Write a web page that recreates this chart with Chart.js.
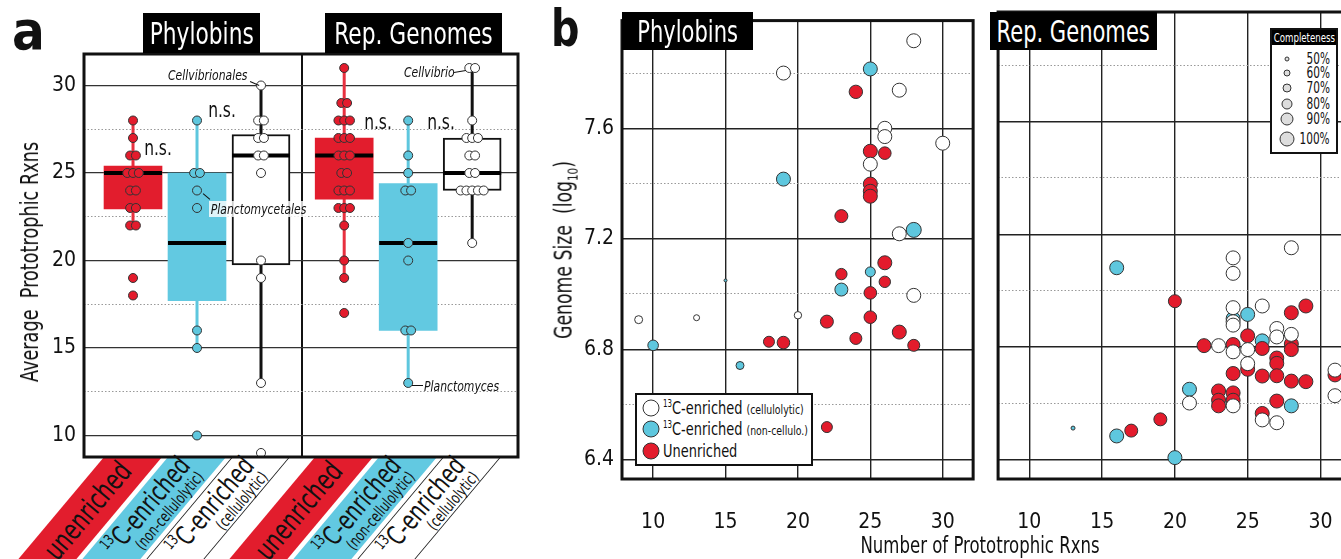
<!DOCTYPE html>
<html>
<head>
<meta charset="utf-8">
<script src="https://cdn.jsdelivr.net/npm/chart.js@4.4.1/dist/chart.umd.min.js"></script>
<style>
  html, body { margin: 0; padding: 0; background: #fff; }
  body {
    width: 1341px; height: 559px; position: relative; overflow: hidden;
    font-family: "DejaVu Sans Condensed", "Liberation Sans Narrow", "Roboto", sans-serif;
    color: #111;
  }
  canvas { position: absolute; top: 0; }
  .abs { position: absolute; white-space: nowrap; }
  .sx { display: inline-block; white-space: nowrap; flex: none; }
  .hdr { position: absolute; background: #000; color: #fff; font-size: 31px; white-space: nowrap;
         display: flex; justify-content: center; align-items: center; }
  .hdr .sx { transform: scaleX(0.78); }
  .band { position: absolute; width: 58px; height: 120px; transform-origin: 0 0; transform: skewX(-40deg); box-sizing: border-box; }
  .btxt { position: absolute; transform: translate(-50%, -50%) rotate(-50deg) scaleX(0.8); text-align: right; white-space: nowrap; line-height: 0.95; }
  .btxt .big { font-size: 27px; }
  .btxt .small { font-size: 16px; }
  sup { font-size: 0.55em; vertical-align: 0.75em; line-height: 0; }
  .ann { position: absolute; font-style: italic; font-size: 14px; white-space: nowrap; transform: translateY(-50%) scaleX(0.86); transform-origin: 0 50%; }
  .ns { position: absolute; font-size: 21px; transform: translate(-50%, -50%) scaleX(0.82); white-space: nowrap; }
  .leg { position: absolute; background: #fff; border: 2px solid #111; box-sizing: border-box; }
  .dot { position: absolute; border-radius: 50%; border: 1px solid #333; box-sizing: border-box; transform: translate(-50%, -50%); }
  .seg { position: absolute; height: 1.3px; background: #111; transform-origin: 0 50%; }
  .legtxt { position: absolute; left: 26px; font-size: 18px; line-height: 22px; white-space: nowrap; transform: scaleX(0.8); transform-origin: 0 50%; }
  .legtxt span { font-size: 13px; }
</style>
</head>
<body>
<div id="bands"></div>
<canvas id="chartA" width="540" height="559" style="left:0px"></canvas>
<canvas id="chartB1" width="446" height="559" style="left:540px"></canvas>
<canvas id="chartB2" width="380" height="559" style="left:986px"></canvas>

<div class="abs" style="left:12px;top:4px;font-size:54px;font-weight:bold;line-height:54px;">a</div>
<div class="abs" style="left:551px;top:2px;font-size:52px;font-weight:bold;line-height:52px;transform:scaleX(0.85);transform-origin:0 0;">b</div>

<div class="hdr" style="left:143px;top:13px;width:117px;height:40px;"><span class="sx">Phylobins</span></div>
<div class="hdr" style="left:325px;top:13px;width:177px;height:40px;"><span class="sx">Rep. Genomes</span></div>
<div class="hdr" style="left:622px;top:12px;width:131px;height:38px;font-size:30px;"><span class="sx">Phylobins</span></div>
<div class="hdr" style="left:990px;top:12px;width:167px;height:38px;font-size:30px;"><span class="sx">Rep. Genomes</span></div>

<div class="abs" style="left:30px;top:262px;font-size:24px;transform:translate(-50%,-50%) rotate(-90deg) scaleX(0.82);">Average&nbsp; Prototrophic Rxns</div>

<div class="ns" style="left:158px;top:148px;">n.s.</div>
<div class="ns" style="left:222px;top:110px;">n.s.</div>
<div class="ns" style="left:378px;top:122px;">n.s.</div>
<div class="ns" style="left:441px;top:122px;">n.s.</div>

<div class="ann" style="left:168px;top:75px;">Cellvibrionales</div>
<div class="ann" style="left:209px;top:209px;background:rgba(255,255,255,0.8);padding:0 2px;">Planctomycetales</div>
<div class="ann" style="left:404px;top:72px;">Cellvibrio</div>
<div class="ann" style="left:424px;top:386px;">Planctomyces</div>
<div id="segs"></div>

<div class="abs" style="left:565px;top:250px;font-size:24px;transform:translate(-50%,-50%) rotate(-90deg) scaleX(0.8);">Genome Size&nbsp; (log<sub style="font-size:0.6em;">10</sub>)</div>
<div class="abs" style="left:980px;top:545px;font-size:23px;transform:translate(-50%,-50%) scaleX(0.8);">Number of Prototrophic Rxns</div>

<div class="leg" style="left:635px;top:393px;width:178px;height:73px;">
  <div class="dot" style="left:14px;top:13px;width:17px;height:17px;background:#fff;"></div>
  <div class="legtxt" style="top:2px;"><sup>13</sup>C-enriched <span>(cellulolytic)</span></div>
  <div class="dot" style="left:14px;top:34px;width:17px;height:17px;background:#5ec7de;"></div>
  <div class="legtxt" style="top:23px;"><sup>13</sup>C-enriched <span>(non-cellulo.)</span></div>
  <div class="dot" style="left:14px;top:56px;width:17px;height:17px;background:#e31b2c;"></div>
  <div class="legtxt" style="top:45px;">Unenriched</div>
</div>

<div class="leg" id="compLeg" style="left:1270px;top:28px;width:68px;height:126px;">
  <div class="hdr" style="left:0;top:0;width:64px;height:15px;font-size:12px;"><span class="sx" style="transform:scaleX(0.8);">Completeness</span></div>
</div>

<script>
// ---------- panel a : box plots ----------
const groups = ["Phylobins", "Rep. Genomes"];
const categories = ["unenriched", "13C-enriched (non-cellulolytic)", "13C-enriched (cellulolytic)"];

const phyloUnenriched = [28, 27, 26, 26, 25, 25, 25, 24, 24, 23, 23, 22, 22, 19, 18];
const phyloNonCell = [28, 25, 25, 24, 23, 16, 15, 10];
const phyloCell = [30, 28, 28, 27, 27, 26, 26, 25, 20, 19, 13, 9];
const repUnenriched = [31, 29, 29, 28, 28, 28, 27, 27, 27, 26, 26, 26, 25, 25, 24, 24, 24, 23, 23, 23, 22, 20, 19, 17];
const repNonCell = [28, 26, 25, 24, 24, 21, 20, 16, 16, 13];
const repCell = [31, 31, 28, 27, 27, 27, 26, 26, 25, 25, 24, 24, 24, 24, 24, 21];

// box statistics, in the same order as the point lists
const boxQ1 = [22.95, 17.7, 19.75, 23.5, 16.0, 24.0];
const boxQ3 = [25.4, 25.0, 27.2, 27.0, 24.4, 27.0];
const boxMedian = [25, 21, 26, 26, 21, 25];
const whiskerLow = [22, 15, 13, 19, 13, 21];
const whiskerHigh = [28, 28, 30, 31, 28, 31];

const yTicksA = [10, 15, 20, 25, 30];
const yMinorA = [12.5, 17.5, 22.5, 27.5];

// ---------- panel b : scatter [rxns, log10 genome size, completeness %] ----------
const xTicksB = [10, 15, 20, 25, 30];
const yTicksB = [6.4, 6.8, 7.2, 7.6];
const yMinorB = [6.6, 7.0, 7.4, 7.8];

const phyloCellPts = [
  [28, 7.917, 95], [19, 7.80, 95], [27, 7.738, 95], [26, 7.60, 95], [26, 7.57, 95], [30, 7.546, 95],
  [25, 7.47, 95], [27, 7.218, 95], [28, 6.995, 95], [9, 6.907, 65], [13, 6.914, 55], [20, 6.923, 62]
];
const phyloNonCellPts = [
  [25, 7.815, 95], [19, 7.416, 95], [28, 7.232, 100], [25, 7.08, 75], [23, 7.016, 90],
  [15, 7.049, 40], [10, 6.814, 78], [16, 6.741, 65]
];
const phyloUnenrichedPts = [
  [24, 7.732, 92], [25, 7.517, 95], [26, 7.51, 88], [25, 7.398, 95], [25, 7.372, 95], [25, 7.354, 95],
  [23, 7.282, 90], [26, 7.113, 95], [23, 7.072, 82], [26, 7.044, 82], [25, 7.004, 88], [22, 6.90, 90],
  [25, 6.916, 88], [27, 6.862, 95], [24, 6.839, 85], [28, 6.814, 85], [18, 6.827, 80], [19, 6.824, 88],
  [22, 6.518, 80]
];
const repCellPts = [
  [28, 7.152, 95], [24, 7.116, 95], [24, 7.061, 95], [24, 6.939, 95], [26, 6.945, 95], [24, 6.889, 95],
  [24, 6.877, 95], [27, 6.865, 95], [28, 6.844, 95], [27, 6.835, 95], [23, 6.804, 95], [24, 6.782, 95],
  [25, 6.79, 95], [25, 6.74, 95], [31, 6.717, 95], [31, 6.626, 95], [21, 6.60, 95], [24, 6.59, 95],
  [26, 6.54, 95], [27, 6.53, 95]
];
const repNonCellPts = [
  [16, 7.081, 95], [25, 6.915, 95], [24, 6.90, 95], [26, 6.821, 95], [21, 6.649, 95], [28, 6.59, 95],
  [16, 6.483, 95], [13, 6.511, 45], [20, 6.406, 95]
];
const repUnenrichedPts = [
  [20, 6.962, 90], [28, 6.921, 95], [29, 6.945, 95], [25, 6.839, 95], [22, 6.804, 95], [24, 6.808, 95],
  [26, 6.794, 95], [28, 6.81, 95], [28, 6.79, 95], [27, 6.76, 95], [27, 6.741, 95], [24, 6.705, 95],
  [25, 6.72, 95], [26, 6.696, 95], [27, 6.697, 95], [28, 6.678, 95], [29, 6.676, 95], [31, 6.70, 95],
  [23, 6.643, 95], [23, 6.61, 95], [23, 6.59, 95], [24, 6.636, 95], [24, 6.61, 95], [27, 6.607, 95],
  [26, 6.563, 95], [19, 6.542, 90], [17, 6.502, 90]
];
const completenessLevels = [50, 60, 70, 80, 90, 100];

const RED = "#e31b2c", CYAN = "#5ec7de", WHITE = "#ffffff";
const FONT = getComputedStyle(document.body).fontFamily;
Chart.defaults.font.family = FONT;
Chart.defaults.color = "#111";

const frame = {
  id: "frame",
  afterDraw(chart) {
    const a = chart.chartArea, ctx = chart.ctx;
    ctx.save();
    ctx.strokeStyle = "#111";
    ctx.lineWidth = 3;
    ctx.strokeRect(a.left, a.top, a.right - a.left, a.bottom - a.top);
    ctx.restore();
  }
};

function setTicks(list) {
  return s => { s.ticks = list.map(v => ({ value: v })); };
}

/* =====================================================
   PANEL A
===================================================== */
const pointLists = [phyloUnenriched, phyloNonCell, phyloCell, repUnenriched, repNonCell, repCell];
const fills = [RED, CYAN, WHITE, RED, CYAN, WHITE];
const boxFills = ["#e21d2d", "#62c9e1", WHITE, "#e21d2d", "#62c9e1", WHITE];
const whiskerColors = ["#e8303f", "#5ec7de", "#111", "#e8303f", "#5ec7de", "#111"];
const xPos = pointLists.map((_, i) => 1 + i + (i >= 3 ? 0.3 : 0));

function jitter(values, pos) {
  const counts = {}, seen = {};
  values.forEach(v => counts[v] = (counts[v] || 0) + 1);
  return values.map(v => {
    const j = seen[v] || 0;
    seen[v] = j + 1;
    return { x: pos + (j - (counts[v] - 1) / 2) * 0.09, y: v };
  });
}

const datasetsA = [];
pointLists.forEach((vals, i) => {
  datasetsA.push({
    type: "line",
    data: [{ x: xPos[i], y: whiskerLow[i] }, { x: xPos[i], y: whiskerHigh[i] }],
    borderColor: whiskerColors[i],
    borderWidth: 3,
    pointRadius: 0,
    order: 10
  });
});
datasetsA.push({
  type: "bar",
  data: xPos.map((x, i) => ({ x, y: [boxQ1[i], boxQ3[i]] })),
  backgroundColor: boxFills,
  borderColor: ["#e21d2d", "#62c9e1", "#111", "#e21d2d", "#62c9e1", "#111"],
  borderWidth: [0, 0, 2, 0, 0, 2],
  borderSkipped: false,
  barThickness: 58,
  order: 8
});
datasetsA.push({
  type: "scatter",
  data: xPos.map((x, i) => ({ x, y: boxMedian[i] })),
  pointStyle: "line",
  pointRadius: 29,
  borderColor: "#000",
  borderWidth: 4,
  order: 6
});
pointLists.forEach((vals, i) => {
  datasetsA.push({
    type: "scatter",
    data: jitter(vals, xPos[i]),
    backgroundColor: fills[i],
    borderColor: "#333",
    borderWidth: 1,
    pointRadius: 4.5,
    order: 1
  });
});

const chartA = new Chart(document.getElementById("chartA"), {
  type: "bar",
  data: { datasets: datasetsA },
  options: {
    responsive: false,
    animation: false,
    layout: { autoPadding: false, padding: { top: 54, right: 22, bottom: 102, left: 0 } },
    plugins: { legend: { display: false }, tooltip: { enabled: false } },
    scales: {
      x: {
        type: "linear", min: 0.234, max: 7.016, offset: false,
        afterFit: s => { s.height = 0; },
        afterBuildTicks: setTicks([3.64]),
        ticks: { display: false },
        grid: { color: "#111", lineWidth: 2, drawTicks: false, offset: false },
        border: { display: false }
      },
      y: {
        min: 8.77, max: 31.8,
        afterFit: s => { s.width = 84; },
        afterBuildTicks: setTicks(yTicksA),
        ticks: { padding: 8, font: { size: 21 }, color: "#111" },
        grid: { color: "#333", lineWidth: 1.2, drawTicks: false },
        border: { display: false }
      },
      y2: {
        position: "left", min: 8.77, max: 31.8,
        afterFit: s => { s.width = 0; },
        afterBuildTicks: setTicks(yMinorA),
        ticks: { display: false },
        grid: { color: "#999", lineWidth: 1, drawTicks: false },
        border: { display: false, dash: [1.5, 2] }
      }
    }
  },
  plugins: [frame]
});

// diagonal category bands under panel a
const bands = document.getElementById("bands");
pointLists.forEach((_, i) => {
  const cx = chartA.scales.x.getPixelForValue(xPos[i]);
  const top = chartA.chartArea.bottom;
  const k = i % 3;
  const band = document.createElement("div");
  band.className = "band";
  band.style.left = (cx - 29) + "px";
  band.style.top = top + "px";
  band.style.background = boxFills[i];
  if (k === 2) { band.style.borderLeft = "1.5px solid #111"; band.style.borderRight = "1.5px solid #111"; }
  bands.appendChild(band);

  const d = 54;
  const t = document.createElement("div");
  t.className = "btxt";
  t.style.left = (cx - 0.839 * d) + "px";
  t.style.top = (top + d) + "px";
  if (k === 0) t.innerHTML = '<div class="big" style="font-size:29px">unenriched</div>';
  if (k === 1) t.innerHTML = '<div class="big"><sup>13</sup>C-enriched</div><div class="small">(non-cellulolytic)</div>';
  if (k === 2) t.innerHTML = '<div class="big"><sup>13</sup>C-enriched</div><div class="small">(cellulolytic)</div>';
  bands.appendChild(t);
});

// annotation leader lines
function seg(x1, y1, x2, y2) {
  const s = document.createElement("div");
  s.className = "seg";
  const len = Math.hypot(x2 - x1, y2 - y1);
  s.style.left = x1 + "px";
  s.style.top = y1 + "px";
  s.style.width = len + "px";
  s.style.transform = "rotate(" + Math.atan2(y2 - y1, x2 - x1) + "rad)";
  document.getElementById("segs").appendChild(s);
}
seg(250, 81, 259, 85);
seg(203, 193, 210, 199);
seg(454, 72, 466, 70);
seg(412, 385, 423, 385);

/* =====================================================
   PANEL B
===================================================== */
const radiusFor = c => Math.max(1.5, 2.5 + (c - 50) * 0.1);

function scatterSet(pts, color) {
  return {
    data: pts.map(p => ({ x: p[0], y: p[1], c: p[2] })),
    backgroundColor: color,
    borderColor: "#333",
    borderWidth: 1,
    pointRadius: ctx => radiusFor(ctx.raw.c),
    clip: false
  };
}

function scatterOptions(showY, yWidth, rightPad) {
  return {
    responsive: false,
    animation: false,
    layout: { autoPadding: false, padding: { top: 12, right: rightPad, bottom: 0, left: 0 } },
    plugins: { legend: { display: false }, tooltip: { enabled: false } },
    scales: {
      x: {
        type: "linear", min: 7.85, max: 32.1,
        afterFit: s => { s.height = 80; },
        afterBuildTicks: setTicks(xTicksB),
        ticks: { padding: 31, font: { size: 21 }, color: "#111" },
        grid: { color: "#222", lineWidth: 1.4, drawTicks: false },
        border: { display: false }
      },
      y: {
        min: 6.33, max: 7.99,
        afterFit: s => { s.width = yWidth; },
        afterBuildTicks: setTicks(yTicksB),
        ticks: { display: showY, padding: 8, font: { size: 21 }, color: "#111", callback: v => v.toFixed(1) },
        grid: { color: "#222", lineWidth: 1.4, drawTicks: false },
        border: { display: false }
      },
      y2: {
        position: "left", min: 6.33, max: 7.99,
        afterFit: s => { s.width = 0; },
        afterBuildTicks: setTicks(yMinorB),
        ticks: { display: false },
        grid: { color: "#999", lineWidth: 1, drawTicks: false },
        border: { display: false, dash: [1.5, 2] }
      }
    }
  };
}

new Chart(document.getElementById("chartB1"), {
  type: "scatter",
  data: { datasets: [scatterSet(phyloCellPts, WHITE), scatterSet(phyloUnenrichedPts, RED), scatterSet(phyloNonCellPts, CYAN)] },
  options: scatterOptions(true, 82, 3),
  plugins: [frame]
});

new Chart(document.getElementById("chartB2"), {
  type: "scatter",
  data: { datasets: [scatterSet(repCellPts, WHITE), scatterSet(repUnenrichedPts, RED), scatterSet(repNonCellPts, CYAN)] },
  options: scatterOptions(false, 4, 15),
  plugins: [frame]
});

// completeness key
const comp = document.getElementById("compLeg");
const rowY = [29, 43, 58, 74, 89, 109];
completenessLevels.forEach((c, i) => {
  const r = radiusFor(c);
  const d = document.createElement("div");
  d.className = "dot";
  Object.assign(d.style, { left: "15px", top: rowY[i] + "px", width: 2 * r + "px", height: 2 * r + "px", background: "#ddd" });
  comp.appendChild(d);
  const l = document.createElement("div");
  l.className = "abs";
  Object.assign(l.style, { right: "6px", top: (rowY[i] - 10) + "px", fontSize: "15px", lineHeight: "20px", transform: "scaleX(0.78)", transformOrigin: "100% 50%" });
  l.textContent = c + "%";
  comp.appendChild(l);
});
</script>
</body>
</html>
